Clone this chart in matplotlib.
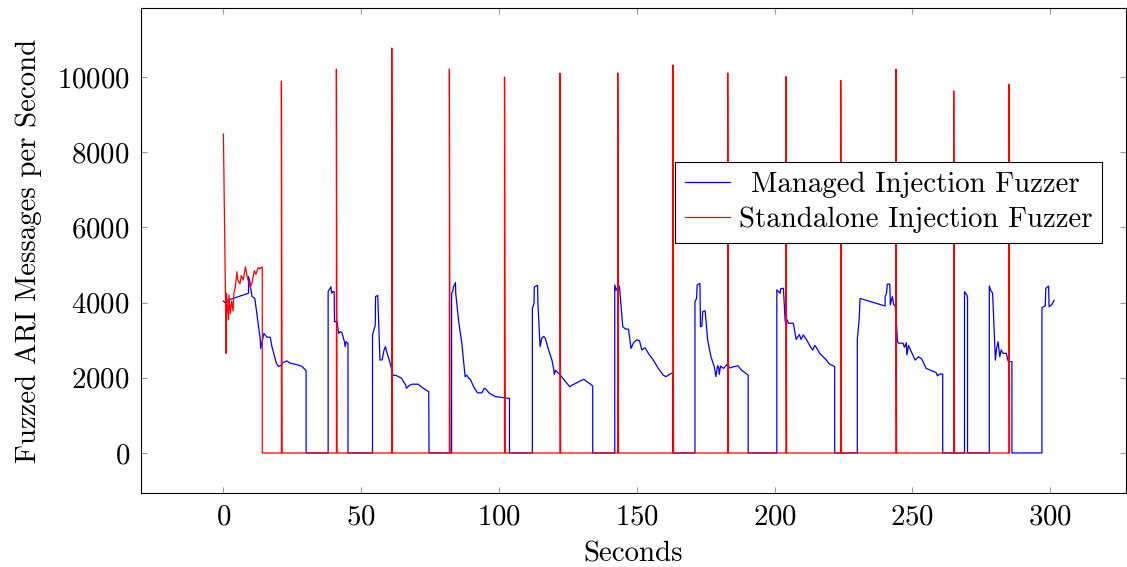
import numpy as np
import matplotlib
matplotlib.use("Agg")
import matplotlib.pyplot as plt

plt.rcParams["font.family"] = ["cmr10", "DejaVu Serif"]
plt.rcParams["mathtext.fontset"] = "cm"
plt.rcParams["axes.formatter.use_mathtext"] = True
plt.rcParams["font.size"] = 20.8

# Managed injection fuzzer (blue)
managed_t = [0, 0.6, 1.5, 9.1, 9.1, 9.6, 9.9, 10.4, 11.4, 11.8, 13.4, 13.5, 14.7, 15.8, 17.0,
             17.6, 19.2, 20.0, 20.8, 21.6, 23.0, 24.2, 26.6, 28.4, 30.0, 30.0, 38.0, 38.0,
             38.7, 39.0, 39.3, 39.7, 40.2, 40.3, 41.2, 41.8, 42.4, 43.0, 43.9, 44.2, 44.5,
             45.2, 45.2, 54.1, 54.1, 55.1, 55.2, 56.0, 56.8, 57.6, 58.3, 58.8, 59.2, 60.5,
             61.5, 62.7, 64.6, 66.1, 66.4, 67.3, 68.5, 70.7, 72.1, 74.5, 74.6, 82.8, 82.8,
             83.2, 83.5, 84.2, 84.3, 85.3, 86.5, 87.7, 88.3, 88.9, 89.6, 90.8, 92.2, 93.8,
             94.6, 95.2, 96.5, 98.7, 100.8, 102.0, 103.8, 103.8, 112.1, 112.1, 112.7, 112.8,
             114.0, 114.1, 114.9, 115.5, 116.2, 116.8, 118.0, 119.2, 119.8, 120.1, 120.5,
             122.3, 124.1, 125.7, 126.6, 127.8, 129.0, 130.8, 131.8, 133.2, 134.0, 134.0,
             142.0, 142.0, 142.5, 143.1, 143.7, 144.9, 145.8, 147.0, 147.9, 148.8, 150.0,
             151.0, 151.8, 153.0, 154.2, 156.0, 157.8, 159.6, 160.6, 161.4, 162.6, 163.0,
             163.0, 171.1, 171.1, 171.7, 171.9, 172.9, 173.1, 173.6, 173.9, 174.8, 175.7,
             176.9, 178.1, 178.7, 179.3, 179.7, 179.9, 180.4, 181.5, 182.9, 183.8, 184.9,
             186.7, 187.9, 190.4, 190.4, 200.8, 200.8, 202.0, 202.2, 203.2, 203.8, 204.1,
             204.6, 205.0, 206.8, 207.8, 209.0, 209.6, 210.4, 211.6, 212.8, 213.8, 214.6,
             215.2, 216.4, 217.6, 218.8, 219.8, 220.6, 221.8, 221.8, 230.0, 230.0, 230.7,
             231.0, 240.1, 240.1, 240.6, 240.9, 241.8, 242.0, 242.7, 243.2, 243.8, 244.6,
             245.0, 246.6, 247.1, 247.8, 248.0, 248.6, 249.2, 251.0, 252.2, 253.4, 255.0,
             257.0, 258.6, 259.1, 259.8, 261.0, 261.0, 268.9, 268.9, 269.8, 270.0, 270.0,
             277.9, 277.9, 278.4, 279.1, 280.1, 280.5, 281.1, 281.7, 282.2, 282.9, 284.1,
             284.6, 284.9, 286.1, 286.1, 297.0, 297.0, 298.2, 298.4, 299.4, 299.6, 300.0,
             300.6, 301.4]
managed_v = [4040, 4000, 4060, 4250, 4690, 4560, 4380, 4160, 4110, 3890, 3000, 2780, 3180,
             3080, 3080, 2830, 2390, 2300, 2330, 2400, 2450, 2390, 2350, 2310, 2190, 0, 0,
             4290, 4380, 4420, 4250, 4290, 4290, 3490, 3500, 3180, 3230, 3200, 2960, 2830,
             2960, 2920, 0, 0, 3140, 3400, 4160, 4190, 2470, 2480, 2740, 2830, 2700, 2390,
             2070, 2060, 1990, 1810, 1720, 1790, 1830, 1830, 1740, 1630, 0, 0, 4250, 4290,
             4420, 4530, 4250, 3540, 2920, 2030, 2070, 2000, 1960, 1760, 1600, 1600, 1720,
             1700, 1590, 1500, 1480, 1470, 1450, 0, 0, 3850, 3980, 4420, 4460, 4000, 2830,
             3050, 3100, 3050, 2740, 2470, 2250, 2090, 2200, 2070, 1900, 1760, 1810, 1850,
             1900, 1960, 1900, 1830, 1780, 0, 0, 4470, 4330, 4420, 4440, 3360, 3300, 3290,
             2780, 2930, 3010, 2980, 2740, 2800, 2650, 2470, 2250, 2070, 2030, 2070, 2120,
             2120, 0, 0, 4020, 4110, 4470, 4510, 3360, 3370, 3760, 3780, 3010, 2560, 2300,
             2030, 2320, 2280, 2090, 2310, 2250, 2370, 2260, 2290, 2320, 2210, 2070, 0, 0,
             4340, 4250, 4370, 4380, 3540, 3410, 3540, 3450, 3450, 3020, 3150, 3020, 3140,
             3010, 2850, 2740, 2860, 2800, 2650, 2560, 2470, 2370, 2340, 2300, 0, 0, 3010,
             3580, 4110, 3910, 4160, 4250, 4490, 4490, 3940, 4160, 3950, 3900, 2960, 2920,
             2920, 2810, 2930, 2610, 2860, 2760, 2470, 2560, 2500, 2250, 2190, 2140, 2050,
             2100, 2100, 0, 0, 4290, 4200, 4110, 0, 0, 4440, 4330, 4250, 2470, 2760, 2960,
             2560, 2740, 2650, 2650, 2470, 2430, 2430, 0, 0, 3870, 3910, 4380, 4440, 3890,
             3910, 3950, 4060]

# Standalone injection fuzzer (red): start-up burst, then bursts to ~10000 msg/s
standalone_t = [0, 1.0, 1.1, 1.8, 2.0, 2.5, 3.0, 3.5, 3.8, 4.3, 4.9, 5.2, 6.0, 6.5, 7.2, 8.0,
                8.6, 9.7, 10.3, 11.2, 11.8, 12.6, 13.2, 14.1, 14.1]
standalone_v = [8480, 2650, 4250, 3540, 4200, 3700, 4040, 3780, 4250, 4400, 4820, 4600, 4500,
                4720, 4600, 4950, 4700, 4410, 4500, 4850, 4750, 4930, 4900, 4950, 0]
spike_t = [21.05, 41.0, 61.1, 82.0, 102.0, 122.1, 143.1, 163.1, 183.0, 204.1, 224.0, 244.0,
           265.0, 285.0]
spike_v = [9890, 10210, 10770, 10210, 10000, 10100, 10106, 10320, 10106, 10010, 9910, 10210,
           9630, 9810]

red_t = list(standalone_t)
red_v = list(standalone_v)
for t, v in zip(spike_t, spike_v):
    red_t += [t, t, t + 0.25]
    red_v += [0, v, 0]

fig = plt.figure(figsize=(11.27, 5.67), dpi=100)
ax = fig.add_axes([141 / 1127, 1 - 493 / 567, 985 / 1127, 485 / 567])

ax.plot(managed_t, managed_v, color="#0000ff", lw=0.9, label="Managed Injection Fuzzer")
ax.plot(red_t, red_v, color="#ff0000", lw=0.9, label="Standalone Injection Fuzzer")

ax.set_xlim(-29.9, 327.5)
ax.set_ylim(-1064, 11835)
ax.set_xticks([0, 50, 100, 150, 200, 250, 300])
ax.set_yticks([0, 2000, 4000, 6000, 8000, 10000])
ax.tick_params(direction="in", length=4.5, width=0.8, color="#999999",
               top=True, right=True, pad=8)
for s in ax.spines.values():
    s.set_linewidth(0.8)

ax.set_xlabel("Seconds", labelpad=8)
ax.set_ylabel("Fuzzed ARI Messages per Second", labelpad=11)

leg = ax.legend(loc="upper left", bbox_to_anchor=(675 / 1127, 1 - 161.7 / 567),
                bbox_transform=fig.transFigure, fancybox=False, framealpha=1,
                edgecolor="black", handlelength=1.55, handletextpad=0.3,
                borderpad=0.35, labelspacing=0.3, borderaxespad=0)
leg.get_frame().set_linewidth(0.8)

# centre the shorter label like the original legend does
fig.canvas.draw()
r = fig.canvas.get_renderer()
w = [t.get_window_extent(r).width for t in leg.get_texts()]
leg.get_texts()[0].set_x((w[1] - w[0]) / 2)

fig.savefig("out.png", dpi=100)
